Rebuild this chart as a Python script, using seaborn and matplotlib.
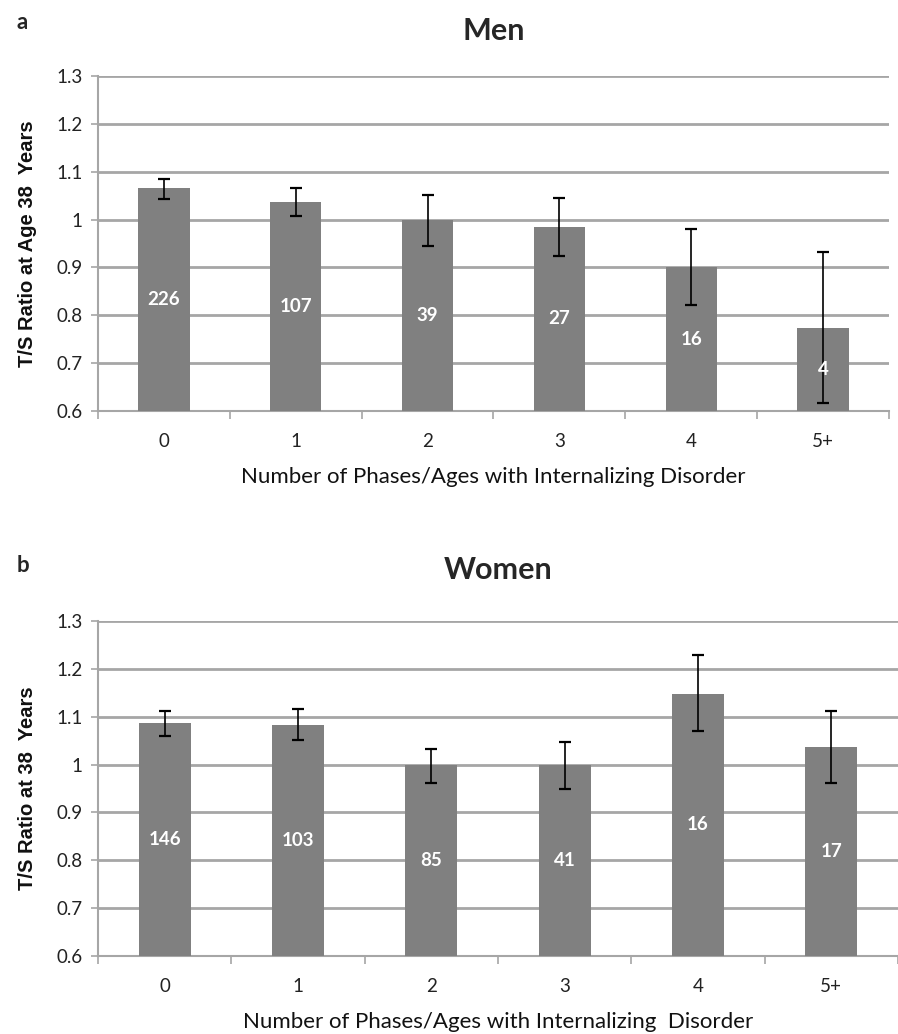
import matplotlib
matplotlib.use("Agg")
import matplotlib.pyplot as plt
import seaborn as sns
import pandas as pd
import numpy as np

categories = ["0", "1", "2", "3", "4", "5+"]

men_mean = [1.065, 1.037, 1.000, 0.985, 0.900, 0.773]
men_hi = [1.084, 1.067, 1.051, 1.046, 0.980, 0.933]
men_lo = [1.043, 1.008, 0.945, 0.923, 0.822, 0.617]
men_n = [226, 107, 39, 27, 16, 4]

women_mean = [1.086, 1.082, 1.000, 1.000, 1.148, 1.036]
women_hi = [1.113, 1.116, 1.032, 1.047, 1.228, 1.113]
women_lo = [1.059, 1.052, 0.962, 0.948, 1.070, 0.962]
women_n = [146, 103, 85, 41, 16, 17]

sns.set_theme(style="white")
plt.rcParams["font.family"] = ["Lato", "DejaVu Sans"]

fig = plt.figure(figsize=(8.98, 10.34), dpi=100)

panels = [
    dict(rect=[0.109, 0.6025, 0.881, 0.324], title="Men", pad=26,
         mean=men_mean, hi=men_hi, lo=men_lo, n=men_n,
         ylabel="T/S Ratio at Age 38  Years",
         xlabel="Number of Phases/Ages with Internalizing Disorder"),
    dict(rect=[0.109, 0.0754, 0.891, 0.324], title="Women", pad=30,
         mean=women_mean, hi=women_hi, lo=women_lo, n=women_n,
         ylabel="T/S Ratio at 38  Years",
         xlabel="Number of Phases/Ages with Internalizing  Disorder"),
]

grid_c = "#a6a6a6"
for p in panels:
    ax = fig.add_axes(p["rect"])
    df = pd.DataFrame({"cat": categories, "val": p["mean"]})
    sns.barplot(data=df, x="cat", y="val", color="#808080", saturation=1,
                width=0.39, errorbar=None, ax=ax, zorder=3, linewidth=0)
    x = np.arange(len(categories))
    mean = np.array(p["mean"])
    yerr = np.vstack([mean - np.array(p["lo"]), np.array(p["hi"]) - mean])
    ax.errorbar(x, mean, yerr=yerr, fmt="none", ecolor="black",
                elinewidth=1.2, capsize=4, capthick=1.6, zorder=4)
    for xi, m, n in zip(x, mean, p["n"]):
        ax.text(xi, (0.6 + m) / 2, str(n), ha="center", va="center",
                color="white", fontsize=13.5, fontweight="bold", zorder=5)
    ax.set_ylim(0.6, 1.3)
    ax.set_xlim(-0.5, len(categories) - 0.5)
    ax.set_yticks([0.6, 0.7, 0.8, 0.9, 1.0, 1.1, 1.2, 1.3])
    ax.set_yticklabels(["0.6", "0.7", "0.8", "0.9", "1", "1.1", "1.2", "1.3"])
    ax.yaxis.grid(True, color=grid_c, linewidth=2, zorder=0)
    ax.set_axisbelow(True)
    ax.set_xticks(x)
    ax.set_xticklabels(categories)
    ax.set_xticks(np.arange(-0.5, len(categories), 1.0), minor=True)
    ax.tick_params(axis="x", which="major", length=0, pad=16, labelsize=13.5,
                   labelcolor="#222222")
    ax.tick_params(axis="x", which="minor", length=6, color=grid_c, width=1.2,
                   direction="out", bottom=True)
    ax.tick_params(axis="y", length=5, color=grid_c, width=1.2, left=True,
                   direction="out", labelsize=13.5, pad=6, labelcolor="#222222")
    for s in ["top", "right"]:
        ax.spines[s].set_visible(False)
    ax.spines["left"].set_color(grid_c)
    ax.spines["bottom"].set_color(grid_c)
    ax.spines["left"].set_linewidth(1.5)
    ax.spines["bottom"].set_linewidth(1.5)
    ax.set_xlabel(p["xlabel"], fontsize=16, labelpad=12, color="#111111")
    ax.set_ylabel(p["ylabel"], fontsize=14.5, fontweight="bold",
                  family=["Liberation Sans", "DejaVu Sans"], labelpad=14,
                  color="#111111")
    ax.set_title(p["title"], fontsize=22, fontweight="bold", pad=p["pad"])

fig.text(0.018, 0.978, "a", fontsize=16, fontweight="bold", va="center")
fig.text(0.018, 0.453, "b", fontsize=16, fontweight="bold", va="center")

fig.savefig("out.png", dpi=100)
